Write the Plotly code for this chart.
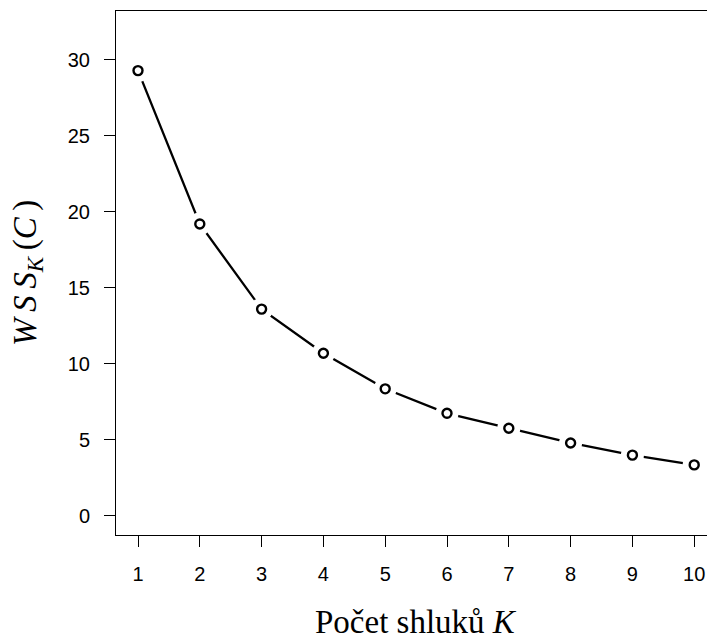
import plotly.graph_objects as go

# Within-cluster sum of squares for K = 1..10 clusters
k_values = [1, 2, 3, 4, 5, 6, 7, 8, 9, 10]
wss_values = [29.28, 19.2, 13.6, 10.7, 8.36, 6.75, 5.77, 4.8, 4.0, 3.36]

x_ticks = [1, 2, 3, 4, 5, 6, 7, 8, 9, 10]
y_ticks = [0, 5, 10, 15, 20, 25, 30]

fig = go.Figure()

# connecting line
fig.add_trace(go.Scatter(
    x=k_values, y=wss_values, mode="lines",
    line=dict(color="black", width=2.3),
    hoverinfo="skip", showlegend=False,
))
# white discs break the line around each point
fig.add_trace(go.Scatter(
    x=k_values, y=wss_values, mode="markers",
    marker=dict(symbol="circle", size=23, color="white", line=dict(width=0)),
    hoverinfo="skip", showlegend=False,
))
# open circle points
fig.add_trace(go.Scatter(
    x=k_values, y=wss_values, mode="markers",
    marker=dict(symbol="circle-open", size=9, color="black",
                line=dict(color="black", width=2.4)),
    showlegend=False,
))

tick_font = dict(family="Liberation Sans, Arial, sans-serif", size=20, color="black")
serif = "Liberation Serif, Times New Roman, serif"
thin = "\u2009"

fig.update_layout(
    width=707, height=640,
    margin=dict(l=116, r=0, t=11, b=105),
    paper_bgcolor="white", plot_bgcolor="white",
    xaxis=dict(
        range=[0.644, 10.207],
        tickmode="array", tickvals=x_ticks,
        ticks="outside", ticklen=11, tickwidth=1, tickcolor="black",
        showline=True, mirror=True, linecolor="black", linewidth=1,
        showgrid=False, zeroline=False,
        tickfont=tick_font, ticklabelstandoff=10,
    ),
    yaxis=dict(
        range=[-1.25, 33.2],
        tickmode="array", tickvals=y_ticks,
        ticks="outside", ticklen=11, tickwidth=1, tickcolor="black",
        showline=True, mirror=False, linecolor="black", linewidth=1,
        showgrid=False, zeroline=False,
        tickfont=tick_font, ticklabelstandoff=10,
    ),
    annotations=[
        dict(
            text="Počet shluků <i>K</i>",
            xref="x", yref="paper", x=5.5, y=-0.166,
            xanchor="center", yanchor="middle", showarrow=False,
            font=dict(family=serif, size=33, color="black"),
        ),
        dict(
            text=f"<i>W{thin}S{thin}S</i><sub><i>K</i></sub>{thin}(<i>C</i>{thin})",
            xref="paper", yref="paper", x=-0.1506, y=0.5,
            xanchor="center", yanchor="middle", showarrow=False,
            textangle=-90,
            font=dict(family=serif, size=33, color="black"),
        ),
    ],
)

fig.write_html("out.html")
